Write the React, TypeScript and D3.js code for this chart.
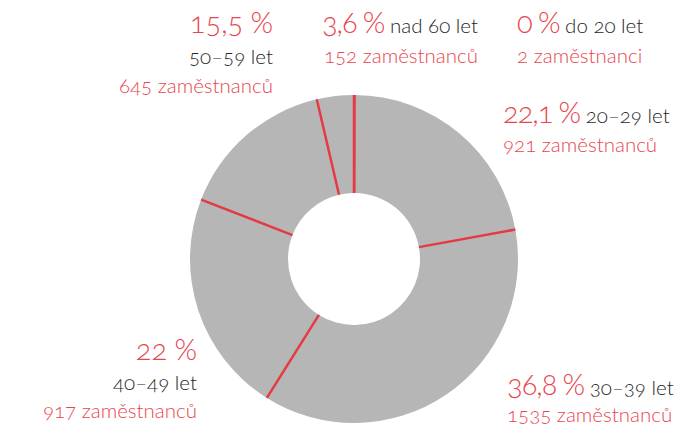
import React from "react";
import * as d3 from "d3";

const categories = ["do 20 let", "20–29 let", "30–39 let", "40–49 let", "50–59 let", "nad 60 let"];
const employees = [2, 921, 1535, 917, 645, 152];
const percents = ["0", "22,1", "36,8", "22", "15,5", "3,6"];
const countLabels = ["2 zaměstnanci", "921 zaměstnanců", "1535 zaměstnanců", "917 zaměstnanců", "645 zaměstnanců", "152 zaměstnanců"];

const W = 684, H = 430;
const cx = 354, cy = 259;
const RED = "#e63a43";
const TXT_RED = "#e8464f";
const DARK = "#262626";
const GRAY = "#b7b6b7";
const FONT = "Lato, 'Open Sans', sans-serif";
const NS = "\u202F";

export default function App() {
  const pie = d3.pie<number>().sort(null).startAngle(0).endAngle(2 * Math.PI);
  const arcs = pie(employees);
  const arc = d3.arc<d3.PieArcDatum<number>>().innerRadius(66).outerRadius(164);
  const big = { fontSize: 29, fill: TXT_RED, letterSpacing: -1 };
  const mid = { fontSize: 20.5, fill: DARK, letterSpacing: 0 };
  const cnt = { fontSize: 20.5, fill: TXT_RED };
  const pct = (i: number) => percents[i] + NS + "%";
  return (
    <>
      <style>{`body{margin:0}`}</style>
      <svg width={W} height={H} style={{ display: "block", fontFamily: FONT, fontWeight: 300, fontFeatureSettings: "'onum'", fontVariantNumeric: "oldstyle-nums" }}>
        <g transform={`translate(${cx},${cy})`}>
          {arcs.map((a, i) => (
            <path key={i} d={arc(a) || ""} fill={GRAY} />
          ))}
          {arcs.map((a, i) => {
            const ang = a.startAngle;
            const s = Math.sin(ang), c = -Math.cos(ang);
            return <line key={"l" + i} x1={s * 66} y1={c * 66} x2={s * 164} y2={c * 164} stroke={RED} strokeWidth={2.5} />;
          })}
        </g>
        {/* 50–59 */}
        <g textAnchor="end">
          <text x={273} y={33} {...big}>{pct(4)}</text>
          <text x={273} y={64} {...mid}>{categories[4]}</text>
          <text x={273} y={93} {...cnt}>{countLabels[4]}</text>
        </g>
        {/* nad 60 */}
        <g textAnchor="end">
          <text x={478} y={33}><tspan {...big}>{pct(5)}</tspan><tspan {...mid}>{" " + categories[5]}</tspan></text>
          <text x={478} y={63} {...cnt}>{countLabels[5]}</text>
        </g>
        {/* do 20 */}
        <g>
          <text x={517} y={33}><tspan {...big}>{pct(0)}</tspan><tspan {...mid}>{" " + categories[0]}</tspan></text>
          <text x={517} y={63} {...cnt}>{countLabels[0]}</text>
        </g>
        {/* 20–29 */}
        <g>
          <text x={503} y={123}><tspan {...big}>{pct(1)}</tspan><tspan {...mid}>{" " + categories[1]}</tspan></text>
          <text x={503} y={152} {...cnt}>{countLabels[1]}</text>
        </g>
        {/* 40–49 */}
        <g textAnchor="end">
          <text x={197} y={360} {...big}>{pct(3)}</text>
          <text x={197} y={390} {...mid}>{categories[3]}</text>
          <text x={197} y={418} {...cnt}>{countLabels[3]}</text>
        </g>
        {/* 30–39 */}
        <g>
          <text x={507} y={395}><tspan {...big}>{pct(2)}</tspan><tspan {...mid}>{" " + categories[2]}</tspan></text>
          <text x={507} y={422} {...cnt}>{countLabels[2]}</text>
        </g>
      </svg>
    </>
  );
}
